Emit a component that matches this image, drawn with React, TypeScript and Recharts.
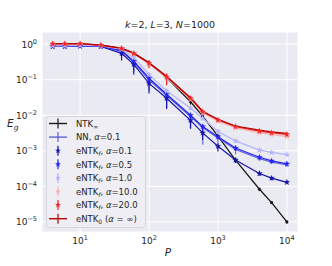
import React from 'react';
import { LineChart, Line, XAxis, YAxis, CartesianGrid, ErrorBar, Legend } from 'recharts';

const FONT = '"DejaVu Sans", sans-serif';

const P = [4, 6, 10, 20, 40, 60, 100, 180, 400, 600, 1000, 1800, 4000, 6000, 10000];
const X_TICKS = [10, 100, 1000, 10000];
const X_EXP = ['1', '2', '3', '4'];
const Y_TICKS = [1, 0.1, 0.01, 0.001, 0.0001, 0.00001];
const Y_EXP = ['0', '\u22121', '\u22122', '\u22123', '\u22124', '\u22125'];

const ntkInf = [1.0, 1.0, 1.0, 0.95, 0.75, 0.55, 0.3, 0.115, 0.024, 0.0095, 0.0026, 0.00055, 0.000083, 0.000035, 0.00001];
const ntkInfErr = [[0.02, 0.02], [0.02, 0.02], [0.02, 0.02], [0.03, 0.03], [0.05, 0.05], [0.06, 0.06], [0.05, 0.05], [0.02, 0.02], [0.004, 0.004], [0.0015, 0.0015], [0.0003, 0.0003], [0.00006, 0.00006], [0.000008, 0.000008], [0.000003, 0.000003], [0.000001, 0.000001]];

const nn01 = [0.88, 0.88, 0.9, 0.88, 0.63, 0.31, 0.1, 0.036, 0.0092, 0.0045, 0.0023, 0.0011, 0.0006, 0.00048, 0.0004];
const nn01Err = [[0.04, 0.04], [0.04, 0.04], [0.04, 0.04], [0.05, 0.05], [0.15, 0.08], [0.14, 0.06], [0.05, 0.02], [0.02, 0.008], [0.005, 0.002], [0.003, 0.001], [0.0008, 0.0003], [0.0003, 0.0001], [0.00008, 0.00005], [0.00006, 0.00004], [0.00005, 0.00003]];

const entk01 = [0.86, 0.86, 0.88, 0.86, 0.55, 0.27, 0.079, 0.03, 0.0072, 0.0032, 0.00135, 0.00055, 0.00023, 0.00017, 0.00013];
const entk01Err = [[0.05, 0.05], [0.05, 0.05], [0.05, 0.05], [0.06, 0.05], [0.2, 0.05], [0.13, 0.04], [0.038, 0.01], [0.015, 0.005], [0.003, 0.001], [0.0012, 0.0004], [0.0004, 0.0001], [0.0001, 0.00005], [0.00003, 0.00002], [0.00002, 0.00001], [0.00001, 0.00001]];

const entk05 = [0.88, 0.88, 0.9, 0.88, 0.66, 0.33, 0.11, 0.039, 0.01, 0.0048, 0.0025, 0.0012, 0.00066, 0.00052, 0.00043];
const entk05Err = [[0.04, 0.04], [0.04, 0.04], [0.04, 0.04], [0.05, 0.05], [0.1, 0.05], [0.1, 0.05], [0.03, 0.01], [0.012, 0.005], [0.003, 0.001], [0.0015, 0.0005], [0.0004, 0.0002], [0.0002, 0.0001], [0.00008, 0.00005], [0.00006, 0.00004], [0.00004, 0.00003]];

const entk1 = [0.9, 0.9, 0.92, 0.9, 0.72, 0.42, 0.14, 0.048, 0.016, 0.0082, 0.0035, 0.0019, 0.00105, 0.0009, 0.00078];
const entk1Err = [[0.03, 0.03], [0.03, 0.03], [0.03, 0.03], [0.04, 0.04], [0.06, 0.04], [0.06, 0.04], [0.02, 0.01], [0.008, 0.004], [0.002, 0.001], [0.001, 0.0005], [0.0003, 0.0002], [0.0002, 0.0001], [0.00008, 0.00005], [0.00006, 0.00004], [0.00005, 0.00003]];

const entk10 = [0.98, 0.98, 1.0, 0.92, 0.75, 0.54, 0.28, 0.115, 0.028, 0.0115, 0.0068, 0.0044, 0.0032, 0.0029, 0.0025];
const entk10Err = [[0.03, 0.03], [0.03, 0.03], [0.03, 0.03], [0.03, 0.03], [0.04, 0.04], [0.05, 0.04], [0.05, 0.03], [0.04, 0.025], [0.004, 0.003], [0.0015, 0.001], [0.0006, 0.0005], [0.0004, 0.0003], [0.0002, 0.0002], [0.00015, 0.00015], [0.00012, 0.00012]];

const entk20 = [1.02, 1.02, 1.03, 0.93, 0.76, 0.55, 0.29, 0.12, 0.03, 0.0125, 0.0074, 0.0048, 0.0036, 0.0032, 0.0029];
const entk20Err = [[0.03, 0.03], [0.03, 0.03], [0.03, 0.03], [0.03, 0.03], [0.04, 0.04], [0.05, 0.04], [0.08, 0.06], [0.05, 0.03], [0.004, 0.003], [0.0015, 0.001], [0.0006, 0.0005], [0.0004, 0.0003], [0.0002, 0.0002], [0.00015, 0.00015], [0.00012, 0.00012]];

const entk0 = [1.03, 1.03, 1.04, 0.94, 0.77, 0.56, 0.3, 0.125, 0.031, 0.013, 0.0077, 0.005, 0.0038, 0.0034, 0.0031];
const entk0Err = [[0.02, 0.02], [0.02, 0.02], [0.02, 0.02], [0.02, 0.02], [0.03, 0.03], [0.03, 0.03], [0.03, 0.03], [0.015, 0.015], [0.003, 0.003], [0.001, 0.001], [0.0005, 0.0005], [0.0003, 0.0003], [0.0002, 0.0002], [0.00015, 0.00015], [0.0001, 0.0001]];

const C = {
  ntk: '#1a1a1a',
  nn: '#4a4ad6',
  a01: '#1414a8',
  a05: '#2424f4',
  a1: '#b4b4fa',
  a10: '#f8b4b4',
  a20: '#f42424',
  a0: '#b40000',
};

const rows = P.map((p, i) => ({
  P: p,
  ntk: ntkInf[i], ntkErr: ntkInfErr[i],
  nn: nn01[i], nnErr: nn01Err[i],
  a01: entk01[i], a01Err: entk01Err[i],
  a05: entk05[i], a05Err: entk05Err[i],
  a1: entk1[i], a1Err: entk1Err[i],
  a10: entk10[i], a10Err: entk10Err[i],
  a20: entk20[i], a20Err: entk20Err[i],
  a0: entk0[i], a0Err: entk0Err[i],
}));

function starPath(cx: number, cy: number, r: number) {
  let d = '';
  for (let i = 0; i < 10; i++) {
    const rad = i % 2 === 0 ? r : r * 0.42;
    const a = -Math.PI / 2 + (i * Math.PI) / 5;
    d += (i ? 'L' : 'M') + (cx + rad * Math.cos(a)).toFixed(2) + ',' + (cy + rad * Math.sin(a)).toFixed(2);
  }
  return d + 'Z';
}

const starDot = (color: string) => (p: any) => {
  if (p.cx == null || p.cy == null || Number.isNaN(p.cy)) return <g key={p.index} />;
  return <path key={p.index} d={starPath(p.cx, p.cy, 3.0)} fill={color} stroke={color} strokeWidth={0.3} />;
};

const XTick = (props: any) => {
  const i = X_TICKS.indexOf(props.payload.value);
  return (
    <text x={props.x} y={244} textAnchor="middle" fontFamily={FONT} fontSize={9} fill="#262626">
      10<tspan dy={-4} fontSize={6.5}>{X_EXP[i]}</tspan>
    </text>
  );
};

const YTick = (props: any) => {
  const i = Y_TICKS.findIndex((t) => Math.abs(t - props.payload.value) / t < 1e-6);
  return (
    <text x={37} y={props.y + 3.5} textAnchor="end" fontFamily={FONT} fontSize={9} fill="#262626">
      10<tspan dy={-4} fontSize={6.5}>{Y_EXP[i]}</tspan>
    </text>
  );
};

const LEGEND = [
  { kind: 'line', color: C.ntk, text: <>NTK<tspan fontSize={6} dy={2}>∞</tspan></> },
  { kind: 'line', color: C.nn, text: <>NN, <tspan fontStyle="italic">α</tspan>=0.1</> },
  { kind: 'star', color: C.a01, text: <>eNTK<tspan fontSize={6} dy={2} fontStyle="italic">f</tspan><tspan dy={-2}>, </tspan><tspan fontStyle="italic">α</tspan>=0.1</> },
  { kind: 'star', color: C.a05, text: <>eNTK<tspan fontSize={6} dy={2} fontStyle="italic">f</tspan><tspan dy={-2}>, </tspan><tspan fontStyle="italic">α</tspan>=0.5</> },
  { kind: 'star', color: C.a1, text: <>eNTK<tspan fontSize={6} dy={2} fontStyle="italic">f</tspan><tspan dy={-2}>, </tspan><tspan fontStyle="italic">α</tspan>=1.0</> },
  { kind: 'star', color: C.a10, text: <>eNTK<tspan fontSize={6} dy={2} fontStyle="italic">f</tspan><tspan dy={-2}>, </tspan><tspan fontStyle="italic">α</tspan>=10.0</> },
  { kind: 'star', color: C.a20, text: <>eNTK<tspan fontSize={6} dy={2} fontStyle="italic">f</tspan><tspan dy={-2}>, </tspan><tspan fontStyle="italic">α</tspan>=20.0</> },
  { kind: 'line', color: C.a0, text: <>eNTK<tspan fontSize={6} dy={2}>0</tspan><tspan dy={-2}> (</tspan><tspan fontStyle="italic">α</tspan> = ∞)</> },
];

const LegendBox = () => (
  <svg width={100} height={112} style={{ display: 'block' }}>
    <rect x={0.5} y={0.5} width={99} height={111} rx={3} fill="#eeeef4" stroke="#d6d6de" />
    {LEGEND.map((it, i) => {
      const y = 7.5 + i * 13.6;
      return (
        <g key={i}>
          {it.kind === 'line' && <line x1={3} x2={21} y1={y} y2={y} stroke={it.color} strokeWidth={1.4} opacity={it.color === C.nn ? 0.85 : 1} />}
          <line x1={12} x2={12} y1={y - 5} y2={y + 5} stroke={it.color} strokeWidth={1.2} opacity={it.color === C.nn ? 0.85 : 1} />
          {it.kind === 'star' && <path d={starPath(12, y, 3.0)} fill={it.color} />}
          <text x={30} y={y + 3.2} fontFamily={FONT} fontSize={8.5} fill="#262626">{it.text}</text>
        </g>
      );
    })}
  </svg>
);

export default function App() {
  return (
    <div style={{ position: 'absolute', left: 0, top: 0, width: 332, height: 266, background: '#fff' }}>
      <LineChart width={332} height={266} data={rows} margin={{ top: 32, right: 34, bottom: 0, left: 0 }}>
        <CartesianGrid fill="#eaeaf2" stroke="#ffffff" strokeWidth={1} />
        <XAxis
          dataKey="P"
          type="number"
          scale="log"
          domain={[2.8, 14500]}
          ticks={X_TICKS}
          allowDataOverflow
          axisLine={false}
          tickLine={false}
          height={34}
          tick={<XTick />}
        />
        <YAxis
          type="number"
          scale="log"
          domain={[5.2e-6, 2.2]}
          ticks={Y_TICKS}
          allowDataOverflow
          axisLine={false}
          tickLine={false}
          width={42}
          tick={<YTick />}
        />
        <Line dataKey="ntk" stroke={C.ntk} strokeWidth={1.3} dot={{ r: 1.6, fill: C.ntk, stroke: 'none' }} isAnimationActive={false}>
          <ErrorBar dataKey="ntkErr" width={0} stroke={C.ntk} strokeWidth={1.1} />
        </Line>
        <Line dataKey="nn" stroke={C.nn} strokeOpacity={0.8} strokeWidth={1.3} dot={false} isAnimationActive={false}>
          <ErrorBar dataKey="nnErr" width={0} stroke={C.nn} strokeOpacity={0.75} strokeWidth={1.3} />
        </Line>
        <Line dataKey="a01" stroke={C.a01} strokeWidth={1.2} dot={starDot(C.a01)} isAnimationActive={false}>
          <ErrorBar dataKey="a01Err" width={0} stroke={C.a01} strokeWidth={1.2} />
        </Line>
        <Line dataKey="a05" stroke={C.a05} strokeWidth={1.2} dot={starDot(C.a05)} isAnimationActive={false}>
          <ErrorBar dataKey="a05Err" width={0} stroke={C.a05} strokeWidth={1.2} />
        </Line>
        <Line dataKey="a1" stroke={C.a1} strokeWidth={1.2} dot={starDot(C.a1)} isAnimationActive={false}>
          <ErrorBar dataKey="a1Err" width={0} stroke={C.a1} strokeWidth={1.2} />
        </Line>
        <Line dataKey="a10" stroke={C.a10} strokeWidth={1.2} dot={starDot(C.a10)} isAnimationActive={false}>
          <ErrorBar dataKey="a10Err" width={0} stroke={C.a10} strokeWidth={1.2} />
        </Line>
        <Line dataKey="a20" stroke={C.a20} strokeWidth={1.2} dot={starDot(C.a20)} isAnimationActive={false}>
          <ErrorBar dataKey="a20Err" width={0} stroke={C.a20} strokeWidth={1.2} />
        </Line>
        <Line dataKey="a0" stroke={C.a0} strokeWidth={1.2} dot={false} isAnimationActive={false}>
          <ErrorBar dataKey="a0Err" width={0} stroke={C.a0} strokeWidth={1.1} />
        </Line>
        <Legend
          layout="vertical"
          align="center"
          verticalAlign="middle"
          wrapperStyle={{ left: 46, top: 116, width: 100, height: 112 }}
          content={() => <LegendBox />}
        />
      </LineChart>
      <svg width={332} height={266} style={{ position: 'absolute', left: 0, top: 0, pointerEvents: 'none' }}>
        <text x={170} y={28} textAnchor="middle" fontFamily={FONT} fontSize={9.5} fill="#262626">
          <tspan fontStyle="italic">k</tspan>=2, <tspan fontStyle="italic">L</tspan>=3, <tspan fontStyle="italic">N</tspan>=1000
        </text>
        <text x={168} y={256} textAnchor="middle" fontFamily={FONT} fontSize={10.5} fontStyle="italic" fill="#262626">P</text>
        <text x={7} y={127} fontFamily={FONT} fontSize={10.5} fontStyle="italic" fill="#262626">
          E<tspan fontSize={7.5} dy={3}>g</tspan>
        </text>
      </svg>
    </div>
  );
}
